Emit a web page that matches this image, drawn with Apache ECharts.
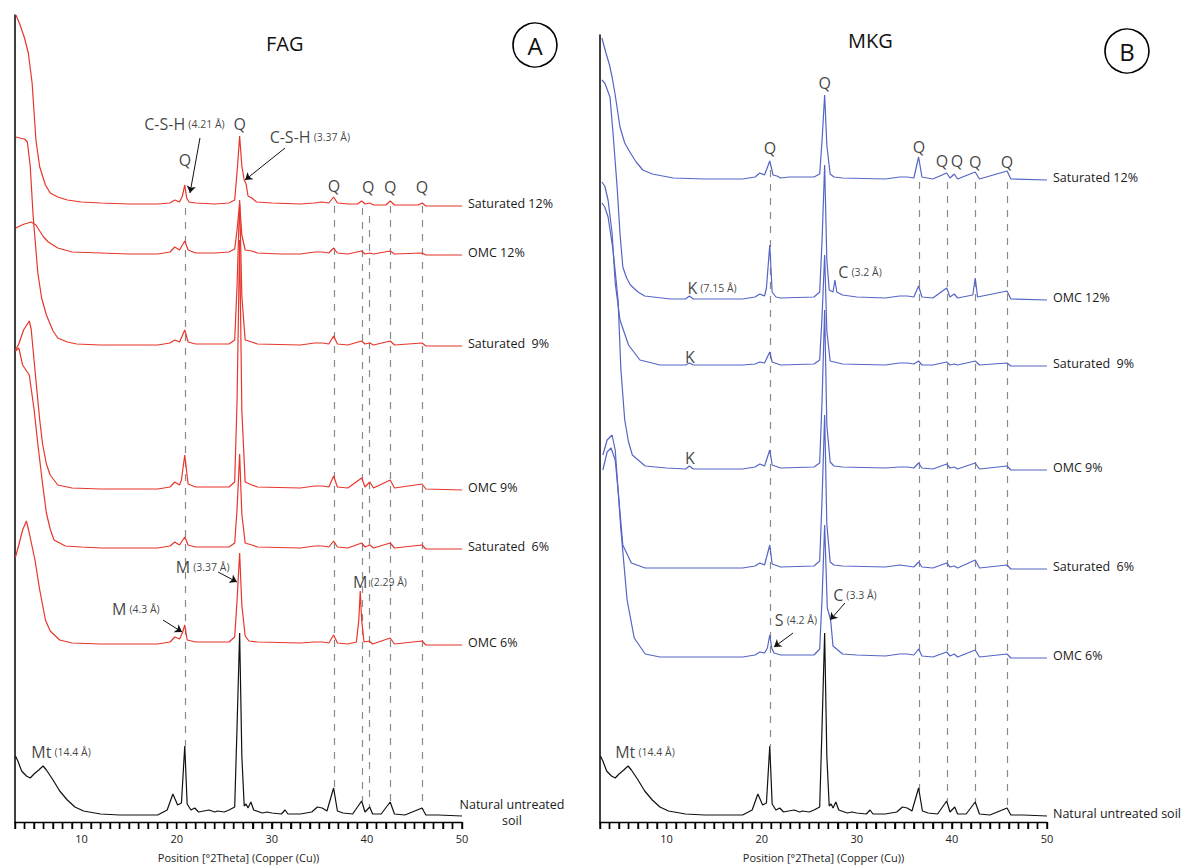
<!DOCTYPE html>
<html>
<head>
<meta charset="utf-8">
<script src="https://cdn.jsdelivr.net/npm/echarts@6/dist/echarts.min.js"></script>
<style>html,body{margin:0;padding:0;background:#fff}#c{width:1190px;height:868px}</style>
</head>
<body>
<div id="c"></div>
<script>
// ---------- DATA (2θ in degrees, relative intensity above each trace's own baseline) ----------
const fagNames = ['Saturated 12%', 'OMC 12%', 'Saturated  9%', 'OMC 9%', 'Saturated  6%', 'OMC 6%'];
const mkgNames = ['Saturated 12%', 'OMC 12%', 'Saturated  9%', 'OMC 9%', 'Saturated  6%', 'OMC 6%'];
const naturalName = 'Natural untreated soil';

// vertical stacking offsets of each trace (same order as names), natural soil last
const fagOffsets = [616, 567, 476, 332, 273, 177, 6];
const mkgOffsets = [642, 522, 456, 352, 253, 164, 6];

const fagSat12 = [[3.1,191],[3.5,182],[4.0,168],[4.4,153],[4.8,123],[5.2,66],[5.6,39],[6.2,21],[6.7,13],[7.5,9],[8.5,6],[10,4],[12,3],[15,2],[18,2],[19.3,3],[19.8,6],[20.3,4],[20.6,10],[20.85,21],[21.05,8],[21.3,4],[22,3],[24,2],[25.5,3],[26.1,6],[26.4,40],[26.62,70],[26.85,40],[27.1,26],[27.3,22],[27.5,10],[27.9,8],[28.4,4],[30,3],[33,2],[34.5,3],[35.2,4],[36,3],[36.5,9],[36.9,3],[38,2],[39,2],[39.45,5],[39.8,2],[40.3,3],[40.7,1],[42,1],[42.45,5],[42.9,1],[45.4,1],[45.8,3],[46.2,0],[48,0],[50,0]];
const fagOmc12 = [[3.1,27],[3.5,29],[4.0,31],[4.7,33],[5.2,30],[5.6,24],[6.0,18],[6.5,13],[7.5,7],[9,3],[12,2],[15,1],[18,1],[19.3,3],[19.8,8],[20.3,5],[20.85,14],[21.2,5],[22,2],[24,2],[25.5,3],[26.1,6],[26.35,25],[26.62,52],[26.85,20],[27.2,5],[27.9,4],[28.5,2],[31,1],[33,1],[34.5,3],[35.3,3],[36,2],[36.5,7],[36.9,2],[38,1],[39.45,4],[39.8,1],[40.3,2],[40.7,1],[42.45,4],[42.9,1],[45.8,2],[46.2,0],[50,0]];
const fagSat9 = [[3.1,209],[3.5,208],[4.0,207],[4.3,204],[4.6,180],[4.9,131],[5.4,73],[5.8,48],[6.3,31],[7.0,15],[7.5,8],[8.5,4],[9.5,2],[12,1],[18,1],[19.3,3],[19.8,6],[20.3,4],[20.85,16],[21.2,4],[22,2],[25.5,2],[26.1,6],[26.35,60],[26.62,146],[26.85,50],[27.2,6],[27.9,4],[28.5,2],[33,1],[34.5,3],[35.3,3],[36,2],[36.5,10],[36.9,2],[38,1],[39.45,5],[39.8,2],[40.3,3],[40.7,1],[42.45,5],[42.9,1],[45.8,3],[46.2,0],[50,0]];
const fagOmc9 = [[3.05,140],[3.4,146],[3.9,160],[4.5,169],[4.7,161],[5.0,130],[5.3,100],[5.6,70],[5.9,46],[6.3,26],[6.7,15],[7.5,5],[9,2],[12,1],[18,1],[19.3,3],[19.8,8],[20.3,5],[20.5,10],[20.85,35],[21.2,6],[22,3],[25.5,3],[26.1,8],[26.35,90],[26.62,250],[26.85,80],[27.2,8],[27.9,5],[28.5,3],[33,2],[34.5,4],[35.3,4],[36,3],[36.5,14],[36.9,3],[38,2],[39.45,12],[39.8,3],[40.3,8],[40.7,2],[42.45,10],[42.9,2],[45.8,6],[46.2,1],[50,0]];
const fagSat6 = [[3.05,198],[3.4,201],[3.8,184],[4.5,174],[5.0,140],[5.4,105],[5.9,65],[6.3,36],[6.7,20],[7.1,9],[8.3,3],[10,2],[12,1],[18,1],[19.3,3],[19.8,7],[20.3,4],[20.85,12],[21.2,4],[22,2],[25.5,2],[26.1,6],[26.35,40],[26.62,95],[26.85,35],[27.2,6],[27.9,4],[28.5,2],[33,1],[34.5,3],[35.3,3],[36,2],[36.5,8],[36.9,2],[38,1],[39.45,6],[39.8,2],[40.3,4],[40.7,1],[42.45,6],[42.9,1],[45.8,4],[46.2,0],[50,0]];
const fagOmc6 = [[3.05,88],[3.4,100],[3.8,115],[4.2,124],[4.5,112],[5.1,85],[5.6,55],[6.2,25],[6.7,14],[7.7,5],[9,2],[12,1],[18,1],[19.3,3],[19.8,8],[20.3,6],[20.6,12],[20.85,20],[21.1,5],[22,3],[25.5,3],[26.1,8],[26.35,45],[26.62,92],[26.85,40],[27.2,9],[27.6,4],[28.5,3],[33,2],[34.5,3],[35.3,3],[36,2],[36.5,10],[36.9,2],[38,1],[38.9,3],[39.15,25],[39.3,54],[39.45,25],[39.7,3],[40.25,4],[40.6,1],[42.45,7],[42.9,1],[45.8,4],[46.2,0],[50,0]];

const mkgSat12 = [[3.2,142],[3.6,128],[4.0,115],[4.27,103],[4.6,85],[5.1,53],[5.6,37],[6.2,27],[6.8,18],[7.5,10],[8.5,6],[10.7,2],[14,1],[18,1],[19.3,3],[19.8,7],[20.3,5],[20.85,19],[21.2,5],[21.6,4],[22,2],[22.9,3],[25.5,3],[26.1,6],[26.35,40],[26.62,85],[26.85,35],[27.2,6],[27.6,3],[28.5,2],[33,1],[34.5,3],[35.3,3],[36,2],[36.5,23],[36.85,3],[38,1],[39.45,7],[39.8,2],[40.25,6],[40.6,1],[42.45,8],[42.9,1],[45.8,9],[46.2,1],[50,0]];
const mkgOmc12 = [[3.2,220],[3.5,217],[4.05,203],[4.37,167],[4.8,113],[5.1,67],[5.4,33],[5.8,22],[6.2,15],[7.0,8],[7.7,4],[10.4,1],[12.0,1],[12.4,4],[12.8,1],[18,1],[19.3,3],[19.8,6],[20.3,4],[20.5,12],[20.85,55],[21.1,8],[21.5,3],[22,2],[25.5,3],[26.1,8],[26.35,60],[26.62,135],[26.85,40],[27.1,10],[27.5,8],[27.7,20],[27.9,8],[28.5,5],[30,3],[33,2],[34.5,4],[35.3,4],[36,3],[36.5,14],[36.85,3],[38,2],[39.45,12],[39.8,3],[40.25,6],[40.6,2],[42.2,5],[42.45,22],[42.7,3],[45.8,9],[46.2,1],[50,0]];
const mkgSat9 = [[3.2,184],[3.5,180],[3.85,166],[4.27,133],[4.6,83],[5.1,46],[6.0,21],[7.2,6],[9.3,1],[12.0,1],[12.4,3],[12.8,1],[18,1],[19.3,2],[19.8,4],[20.3,3],[20.85,14],[21.1,4],[22,1],[25.5,2],[26.1,6],[26.35,50],[26.62,111],[26.85,35],[27.2,5],[28.5,2],[33,1],[34.5,3],[35.3,3],[36,2],[36.5,5],[36.85,1],[38,1],[39.45,4],[39.8,1],[40.25,2],[40.6,1],[42.45,5],[42.9,1],[45.8,3],[46.2,0],[50,0]];
const mkgOmc9 = [[3.2,267],[3.5,263],[3.85,253],[4.37,220],[4.9,170],[5.2,100],[5.6,50],[6.0,28],[6.4,15],[7.75,4],[10,2],[12.0,1],[12.4,4],[12.8,1],[18,1],[19.3,3],[19.8,6],[20.3,4],[20.85,20],[21.1,5],[22,2],[25.5,3],[26.1,7],[26.35,70],[26.62,160],[26.85,45],[27.2,8],[27.6,4],[28.5,3],[33,2],[34.5,3],[35.3,3],[36,2],[36.5,7],[36.85,2],[38,1],[39.45,6],[39.8,2],[40.25,3],[40.6,1],[42.45,7],[42.9,1],[45.8,4],[46.2,0],[50,0]];
const mkgSat6 = [[3.3,114],[3.75,129],[4.27,134],[4.6,119],[4.9,79],[5.4,24],[6.3,6],[7.75,1],[10,1],[18,1],[19.3,3],[19.8,6],[20.3,4],[20.85,24],[21.1,5],[22,2],[25.5,3],[26.1,8],[26.35,70],[26.62,154],[26.85,45],[27.2,7],[27.6,4],[28.5,3],[33,2],[34.5,4],[35.3,3],[36,2],[36.5,7],[36.85,2],[38,1],[39.45,6],[39.8,2],[40.25,3],[40.6,1],[42.45,9],[42.9,1],[45.8,4],[46.2,0],[50,0]];
const mkgOmc6 = [[3.3,188],[3.75,206],[4.16,210],[4.6,198],[4.9,168],[5.2,128],[5.85,58],[6.6,20],[7.75,4],[9.3,1],[12,1],[18,1],[19.3,3],[19.8,6],[20.3,5],[20.6,10],[20.85,23],[21.05,10],[21.3,5],[22,3],[25.5,3],[26.1,9],[26.35,60],[26.62,133],[26.9,50],[27.25,38],[27.5,12],[28.0,8],[28.5,4],[30,3],[33,2],[34.5,4],[35.3,4],[36,3],[36.5,9],[36.85,2],[38,1],[39.45,6],[39.8,2],[40.25,4],[40.6,1],[42.45,8],[42.9,1],[45.8,4],[46.2,0],[50,0]];

const naturalSoil = [[3.05,60],[3.3,55],[3.7,45],[4.2,40],[4.6,38],[5.0,42],[5.5,46],[5.95,50],[6.3,46],[7.0,36],[7.7,25],[8.5,16],[9.3,9],[10.2,5],[12,2],[14,1],[18,1],[19.0,6],[19.6,22],[20.1,11],[20.5,13],[20.85,70],[21.1,12],[21.5,6],[21.9,8],[22.3,4],[23.4,6],[24,4],[24.3,5],[25,4],[25.5,6],[26.1,9],[26.35,90],[26.62,183],[26.85,60],[27.1,10],[27.3,12],[27.5,8],[27.8,14],[28.1,6],[29,3],[29.5,4],[30,3],[31,2],[31.4,6],[31.7,2],[33,2],[34.2,4],[34.8,9],[35.3,8],[35.8,5],[36.5,28],[36.9,5],[37.5,3],[38.5,2],[39.45,15],[39.8,4],[40.3,9],[40.6,2],[41.5,2],[42.45,14],[42.9,2],[44,1],[45.8,8],[46.2,1],[47.5,1],[50,0]];

// quartz reference lines: [2θ, top, bottom]
const fagQuartzLines = [[20.86,614,76],[36.54,616,32],[39.47,614,21],[40.29,606,14],[42.45,616,19],[45.79,616,12]];
const mkgQuartzLines = [[20.86,652,76],[36.54,640,32],[39.47,640,21],[42.45,640,19],[45.79,640,12]];

// annotations: [2θ, level, main text, sub text]
const fagNotes = [[20.86,662,'Q',''],[20.82,698,'C-S-H','(4.21 Å)'],[26.62,698,'Q',''],[34.0,685,'C-S-H','(3.37 Å)'],
  [36.54,636,'Q',''],[40.15,635,'Q',''],[42.45,635,'Q',''],[45.79,635,'Q',''],
  [22.72,255,'M','(3.37 Å)'],[41.38,240,'M','(2.29 Å)'],[15.7,213,'M','(4.3 Å)'],[7.84,70,'Mt','(14.4 Å)']];
const fagArrows = [[[22.45,684],[21.4,629]],[[31.39,674],[27.19,642]],[[24.35,250],[26.34,240]],[[18.56,202],[20.56,190]]];
const mkgNotes = [[20.86,674,'Q',''],[26.62,739,'Q',''],[36.54,675,'Q',''],[38.96,661,'Q',''],[40.54,661,'Q',''],[42.45,660,'Q',''],[45.79,660,'Q',''],
  [14.78,534,'K','(7.15 Å)'],[30.34,550,'C','(3.2 Å)'],[12.46,465,'K',''],[12.46,364,'K',''],
  [23.6,202,'S','(4.2 Å)'],[29.8,227,'C','(3.3 Å)'],[7.73,70,'Mt','(14.4 Å)']];
const mkgArrows = [[[23.3,189],[21.3,175]],[[28.76,219],[27.19,202]]];

// axis ticks
const xMin = 3, xMax = 50, xTickStep = 1;
const xLabels = [10, 20, 30, 40, 50];
const axisTitle = 'Position [°2Theta] (Copper (Cu))';

// ---------- CHART ----------
const RED = '#e8352b', BLUE = '#5565c4', BLACK = '#111';
const FONT = '"Open Sans", "Noto Sans", sans-serif';
const tickPositions = [];
for (let v = xMin; v <= xMax; v += xTickStep) tickPositions.push(v);

function xAxis(i) {
  return {
    type: 'value', gridIndex: i, min: xMin, max: xMax, interval: xTickStep,
    name: axisTitle, nameLocation: 'middle', nameGap: 30,
    nameTextStyle: {fontSize: 11, color: '#222', fontFamily: FONT},
    axisLine: {show: true, onZero: false, lineStyle: {color: '#000', width: 1.3}},
    axisTick: {show: true, inside: false, length: 7, lineStyle: {color: '#000', width: 1.4}},
    axisLabel: {fontSize: 11, color: '#222', fontFamily: FONT, margin: 11, interval: 0, hideOverlap: false,
      formatter: v => xLabels.indexOf(Math.round(v)) >= 0 ? String(Math.round(v)) : ''},
    splitLine: {show: false}
  };
}
function yAxis(i, max) {
  return {type: 'value', gridIndex: i, min: 0, max: max,
    axisLine: {show: true, onZero: false, lineStyle: {color: '#000', width: 1.5}},
    axisTick: {show: false}, axisLabel: {show: false}, splitLine: {show: false}};
}
function trace(name, data, off, color, gi, label, z, labelCfg) {
  return {
    type: 'line', name: name, xAxisIndex: gi, yAxisIndex: gi, z: z,
    data: data.map(p => [p[0], p[1] + off]),
    showSymbol: false, symbol: 'none', silent: true, clip: false,
    lineStyle: {color: color, width: 1.2},
    emphasis: {disabled: true},
    endLabel: Object.assign({show: true, formatter: label, color: '#1a1a1a', fontSize: 12.5, fontFamily: FONT, distance: 6, offset: [0, -3]}, labelCfg || {})
  };
}
function notes(list, gi) {
  return {
    type: 'scatter', xAxisIndex: gi, yAxisIndex: gi, symbolSize: 0, silent: true, z: 20,
    data: list.map(n => ({value: [n[0], n[1]], main: n[2], sub: n[3]})),
    label: {show: true, position: 'inside', fontFamily: FONT,
      formatter: p => p.data.sub ? '{a|' + p.data.main + '} {b|' + p.data.sub + '}' : '{a|' + p.data.main + '}',
      rich: {a: {fontSize: 16, color: '#111', fontFamily: FONT}, b: {fontSize: 10.5, color: '#111', fontFamily: FONT}}}
  };
}
function arrows(list, gi) {
  return {type: 'lines', coordinateSystem: 'cartesian2d', xAxisIndex: gi, yAxisIndex: gi, silent: true, z: 21,
    symbol: ['none', 'arrow'], symbolSize: 7,
    lineStyle: {color: '#111', width: 1, opacity: 1, curveness: 0},
    data: list.map(a => ({coords: a}))};
}
function refLines(list, gi) {
  return {type: 'lines', coordinateSystem: 'cartesian2d', xAxisIndex: gi, yAxisIndex: gi, silent: true, z: 1,
    symbol: ['none', 'none'],
    lineStyle: {color: '#8a8a8a', width: 1.2, type: [7, 7], opacity: 1, curveness: 0},
    data: list.map(l => ({coords: [[l[0], l[1]], [l[0], l[2]]]}))};
}

const fagData = [fagSat12, fagOmc12, fagSat9, fagOmc9, fagSat6, fagOmc6];
const mkgData = [mkgSat12, mkgOmc12, mkgSat9, mkgOmc9, mkgSat6, mkgOmc6];

const series = [];
series.push(refLines(fagQuartzLines, 0), refLines(mkgQuartzLines, 1));
fagData.forEach((d, i) => series.push(trace('FAG ' + fagNames[i], d, fagOffsets[i], RED, 0, fagNames[i], 5 + i)));
mkgData.forEach((d, i) => series.push(trace('MKG ' + mkgNames[i], d, mkgOffsets[i], BLUE, 1, mkgNames[i], 5 + i)));
series.push(trace('FAG ' + naturalName, naturalSoil, fagOffsets[6], BLACK, 0, 'Natural untreated\nsoil', 12,
  {align: 'center', distance: 0, offset: [50, -4], lineHeight: 16}));
series.push(trace('MKG ' + naturalName, naturalSoil, mkgOffsets[6], BLACK, 1, naturalName, 12, {offset: [0, -3]}));
series.push(notes(fagNotes, 0), notes(mkgNotes, 1), arrows(fagArrows, 0), arrows(mkgArrows, 1));

const baseGraphics = [
  {type: 'text', left: 266, top: 33, style: {text: 'FAG', fontSize: 20, fill: '#111', fontFamily: FONT}},
  {type: 'text', left: 848, top: 30, style: {text: 'MKG', fontSize: 20, fill: '#111', fontFamily: FONT}},
  {type: 'circle', shape: {cx: 535, cy: 45, r: 22}, style: {fill: 'none', stroke: '#000', lineWidth: 1.6}},
  {type: 'text', x: 535, y: 45, style: {text: 'A', fontSize: 24, fill: '#111', fontFamily: FONT, align: 'center', verticalAlign: 'middle'}},
  {type: 'circle', shape: {cx: 1127, cy: 51, r: 22}, style: {fill: 'none', stroke: '#000', lineWidth: 1.6}},
  {type: 'text', x: 1127, y: 51, style: {text: 'B', fontSize: 24, fill: '#111', fontFamily: FONT, align: 'center', verticalAlign: 'middle'}}
];

const chart = echarts.init(document.getElementById('c'), null, {renderer: 'svg', width: 1190, height: 868});
chart.setOption({
  animation: false,
  backgroundColor: '#fff',
  textStyle: {fontFamily: FONT},
  grid: [
    {left: 15, width: 447, top: 15, bottom: 46},
    {left: 600, width: 447, top: 35, bottom: 46}
  ],
  xAxis: [xAxis(0), xAxis(1)],
  yAxis: [yAxis(0, 807), yAxis(1, 787)],
  graphic: baseGraphics,
  series: series
});

// axis tick marks (one per degree) placed through the axis scale, as a fallback
const tickGraphics = [];
[0, 1].forEach(gi => {
  tickPositions.forEach(v => {
    const p = chart.convertToPixel({xAxisIndex: gi, yAxisIndex: gi}, [v, 0]);
    if (p) tickGraphics.push({type: 'rect', silent: true, z: 50,
      shape: {x: p[0] - 0.7, y: p[1], width: 1.4, height: 7},
      style: {fill: '#000'}});
  });
});
chart.setOption({graphic: baseGraphics.concat(tickGraphics)});
</script>
</body>
</html>
